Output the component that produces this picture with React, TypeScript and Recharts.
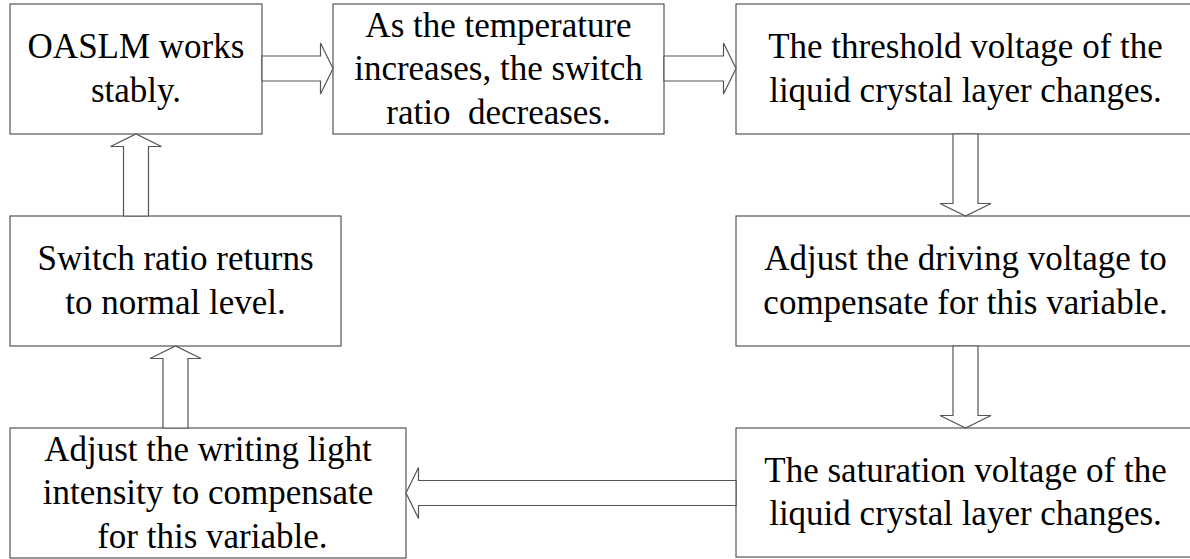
import React from 'react';
import { ScatterChart, XAxis, YAxis, ReferenceArea } from 'recharts';

const W = 1190;
const H = 559;
const FONT = "'Liberation Serif', 'Times New Roman', serif";
const LINE = '#555';

// Step texts, one array of lines per box
const stepLines: string[][] = [
  ['OASLM works', 'stably.'],
  ['As the temperature', 'increases, the switch', 'ratio  decreases.'],
  ['The threshold voltage of the', 'liquid crystal layer changes.'],
  ['Adjust the driving voltage to', 'compensate for this variable.'],
  ['The saturation voltage of the', 'liquid crystal layer changes.'],
  ['Adjust the writing light', 'intensity to compensate', ' for this variable.'],
  ['Switch ratio returns', 'to normal level.'],
];

// Box extents in diagram units (x: 0..1190, y: 0..559 top-down)
const boxLeft = [10, 333, 736, 736, 736, 10, 10];
const boxRight = [262, 664, 1195, 1195, 1195, 406, 341];
const boxTop = [4, 4, 4, 216, 428, 428, 216];
const boxBottom = [134, 134, 134, 346, 557, 558, 346];

// Flow between steps, and the centre line each arrow runs along
const flowFrom = [0, 1, 2, 3, 4, 5, 6];
const flowTo = [1, 2, 3, 4, 5, 6, 0];
const arrowCenter = [68.5, 68.5, 965.5, 965.5, 493, 175.5, 136];

const SHAFT = 12.5;
const HEAD = 25.5;
const TIP = 12.5;

type Dir = 'right' | 'left' | 'up' | 'down';

const arrows = flowFrom.map((f, i) => {
  const t = flowTo[i];
  const c = arrowCenter[i];
  let dir: Dir;
  let x1: number, x2: number, y1: number, y2: number;
  if (boxLeft[t] >= boxRight[f]) {
    dir = 'right'; x1 = boxRight[f]; x2 = boxLeft[t]; y1 = c - HEAD; y2 = c + HEAD;
  } else if (boxRight[t] <= boxLeft[f]) {
    dir = 'left'; x1 = boxRight[t]; x2 = boxLeft[f]; y1 = c - HEAD; y2 = c + HEAD;
  } else if (boxTop[t] >= boxBottom[f]) {
    dir = 'down'; y1 = boxBottom[f]; y2 = boxTop[t]; x1 = c - HEAD; x2 = c + HEAD;
  } else {
    dir = 'up'; y1 = boxBottom[t]; y2 = boxTop[f]; x1 = c - HEAD; x2 = c + HEAD;
  }
  return { dir, x1, x2, y1, y2 };
});

const BoxShape = (props: any) => {
  const { x, y, width, height, lines } = props;
  const cx = x + width / 2;
  const cy = y + height / 2;
  const n = lines.length;
  return (
    <g>
      <rect x={x} y={y} width={width} height={height} fill="#fff" stroke={LINE} strokeWidth={1.2} />
      <text textAnchor="middle" fontFamily={FONT} fontSize={35} fill="#000" style={{ whiteSpace: 'pre' }}>
        {lines.map((l: string, i: number) => (
          <tspan key={i} x={cx} y={cy + (i - (n - 1) / 2) * 43.5 + 11}>{l}</tspan>
        ))}
      </text>
    </g>
  );
};

const ArrowShape = (props: any) => {
  const { x, y, width, height, dir } = props;
  let pts: number[][] = [];
  if (dir === 'right' || dir === 'left') {
    const c = y + height / 2;
    const tip = dir === 'right' ? x + width : x;
    const base = dir === 'right' ? x : x + width;
    const s = dir === 'right' ? -1 : 1;
    const neck = tip + s * TIP;
    pts = [[base, c - SHAFT], [neck, c - SHAFT], [neck, c - HEAD], [tip, c], [neck, c + HEAD], [neck, c + SHAFT], [base, c + SHAFT]];
  } else {
    const c = x + width / 2;
    const tip = dir === 'down' ? y + height : y;
    const base = dir === 'down' ? y : y + height;
    const s = dir === 'down' ? -1 : 1;
    const neck = tip + s * TIP;
    pts = [[c - SHAFT, base], [c - SHAFT, neck], [c - HEAD, neck], [c, tip], [c + HEAD, neck], [c + SHAFT, neck], [c + SHAFT, base]];
  }
  return <polygon points={pts.map(p => p.join(',')).join(' ')} fill="#fff" stroke={LINE} strokeWidth={1.2} />;
};

export default function App() {
  return (
    <div style={{ position: 'absolute', left: 0, top: 0, background: '#fff' }}>
      <ScatterChart width={W} height={H} margin={{ top: 0, right: 0, bottom: 0, left: 0 }}>
        <XAxis type="number" dataKey="x" domain={[0, W]} allowDataOverflow hide />
        <YAxis type="number" dataKey="y" domain={[0, H]} allowDataOverflow reversed hide width={0} />
        {stepLines.map((lines, i) => (
          <ReferenceArea
            key={`box-${i}`}
            x1={boxLeft[i]}
            x2={boxRight[i]}
            y1={boxTop[i]}
            y2={boxBottom[i]}
            ifOverflow="visible"
            shape={(p: any) => <BoxShape {...p} lines={lines} />}
          />
        ))}
        {arrows.map((a, i) => (
          <ReferenceArea
            key={`arrow-${i}`}
            x1={a.x1}
            x2={a.x2}
            y1={a.y1}
            y2={a.y2}
            ifOverflow="visible"
            shape={(p: any) => <ArrowShape {...p} dir={a.dir} />}
          />
        ))}
      </ScatterChart>
    </div>
  );
}
